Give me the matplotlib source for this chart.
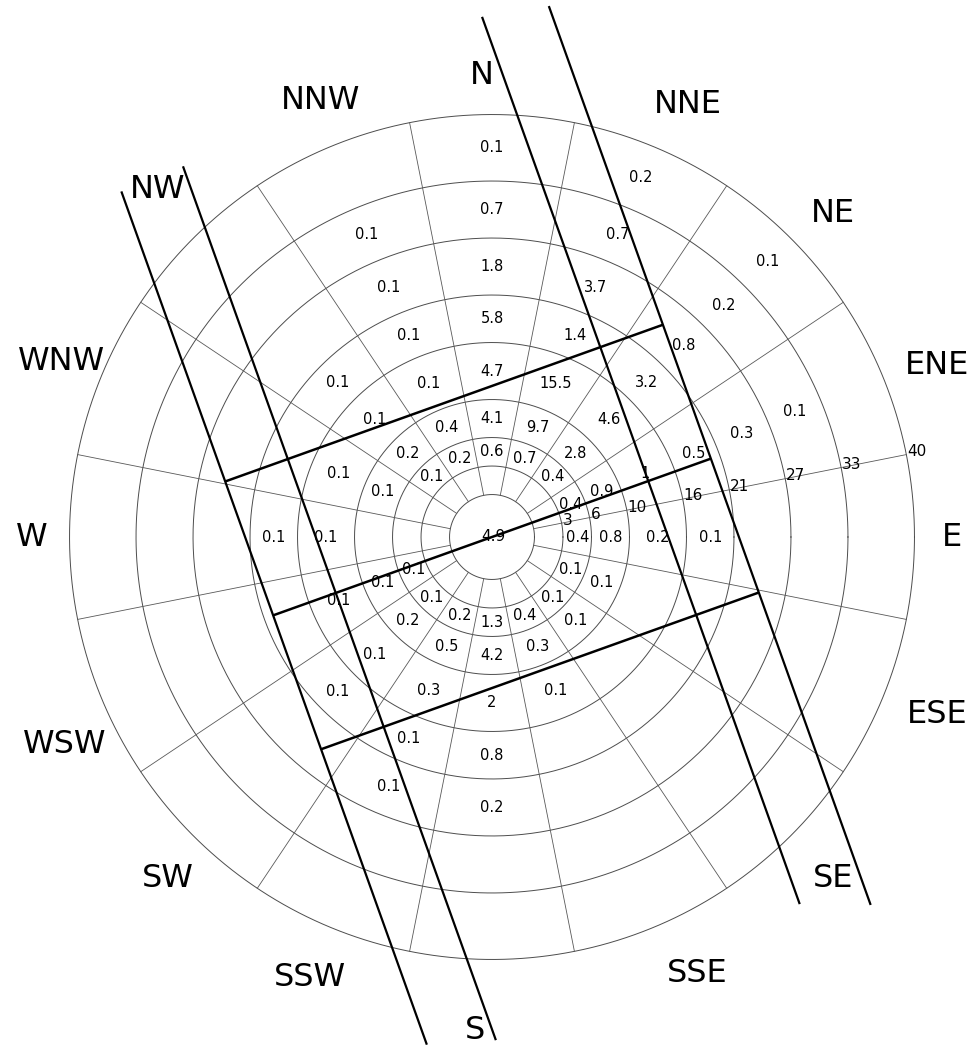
import numpy as np
import matplotlib.pyplot as plt

# wind rose data: percent of observations, directions from N clockwise
directions = ['N', 'NNE', 'NE', 'ENE', 'E', 'ESE', 'SE', 'SSE',
              'S', 'SSW', 'SW', 'WSW', 'W', 'WNW', 'NW', 'NNW']
ring_speeds = [3, 6, 10, 16, 21, 27, 33, 40]   # knots
calm_pct = 4.9

pct_3_6 = [0.6, 0.7, 0.4, 0.4, 0.4, 0.1, 0.1, 0.4, 1.3, 0.2, 0.1, 0.1, None, None, 0.1, 0.2]
pct_6_10 = [4.1, 9.7, 2.8, 0.9, 0.8, 0.1, 0.1, 0.3, 4.2, 0.5, 0.2, 0.1, None, 0.1, 0.2, 0.4]
pct_10_16 = [4.7, 15.5, 4.6, 1, 0.2, None, None, 0.1, 2, 0.3, 0.1, 0.1, 0.1, 0.1, 0.1, 0.1]
pct_16_21 = [5.8, 1.4, 3.2, 0.5, 0.1, None, None, None, 0.8, 0.1, 0.1, None, 0.1, None, 0.1, 0.1]
pct_21_27 = [1.8, 3.7, 0.8, 0.3, None, None, None, None, 0.2, 0.1, None, None, None, None, None, 0.1]
pct_27_33 = [0.7, 0.7, 0.2, 0.1, None, None, None, None, None, None, None, None, None, None, None, 0.1]
pct_33_40 = [0.1, 0.2, 0.1, None, None, None, None, None, None, None, None, None, None, None, None, None]

band_pcts = [pct_3_6, pct_6_10, pct_10_16, pct_16_21, pct_21_27, pct_27_33, pct_33_40]

# runway templates
runway_heading = 70.3          # runway 07/25, degrees from north
xwind_main = 10.5              # knots, band around runway 07/25
xwind_cross = [13, 20]         # knots, bands for the crossing runway

# layout
W, H = 975, 1059
cx, cy = 492, 537
PX = 9.5       # pixels per knot
R0 = 4.47      # calm circle radius in knots of the scale
# extents of the long template lines (along the line, knots), per side/offset
long_extent = {-20: (-47.4, 48.0), -13: (-47.7, 50.0),
               13: (-51.9, 47.3), 20: (-50.6, 49.9)}
# small shifts of the compass labels (knots of the scale)
nudge = {'N': (-1.05, -1.6), 'NNE': (1.4, -0.85), 'NE': (0.4, -1.4), 'ENE': (0.5, -1.2),
         'ESE': (0.5, 0.5), 'SE': (0.4, -0.4), 'SSE': (2.4, 0.4), 'S': (-1.8, -1.7),
         'SW': (1.4, -0.4), 'WSW': (1.4, -2.6), 'WNW': (1.1, -0.7), 'NW': (0.3, 1.1),
         'NNW': (1.2, -0.4)}

fig = plt.figure(figsize=(W / 100, H / 100), dpi=100)
ax = fig.add_axes([0, 0, 1, 1])
ax.set_xlim(-cx / PX, (W - cx) / PX)
ax.set_ylim(-(H - cy) / PX, cy / PX)
ax.axis('off')

# rings
t = np.linspace(0, 2 * np.pi, 600)
for s in [0] + ring_speeds:
    r = R0 + s
    ax.plot(r * np.cos(t), r * np.sin(t), color='0.3', lw=0.7)

# sector boundaries
rmax = R0 + ring_speeds[-1]
for k in range(16):
    a = np.deg2rad(11.25 + 22.5 * k)
    ax.plot([R0 * np.cos(a), rmax * np.cos(a)], [R0 * np.sin(a), rmax * np.sin(a)],
            color='0.35', lw=0.6)

# percentages
edges = [0] + ring_speeds
for b, vals in enumerate(band_pcts):
    lo, hi = edges[b + 1], edges[b + 2]
    rm = R0 + (lo + hi) / 2
    for i, v in enumerate(vals):
        if v is None:
            continue
        a = np.deg2rad(90 - 22.5 * i)
        ax.text(rm * np.cos(a), rm * np.sin(a), f'{v:g}', ha='center', va='center',
                fontsize=10.5, color='black')

ax.text(0.1, 0.1, f'{calm_pct:g}', ha='center', va='center', fontsize=11)

# ring speed labels along the E/ENE boundary
a = np.deg2rad(11.25)
for s in ring_speeds:
    r = R0 + s
    ax.text(r * np.cos(a) + 0.1, r * np.sin(a) - 0.15, str(s), ha='left', va='baseline',
            fontsize=11)

# compass labels
for i, d in enumerate(directions):
    a = np.deg2rad(90 - 22.5 * i)
    r = 48.4 if d in ('E', 'W') else 50.2
    dx, dy = nudge.get(d, (0, 0))
    ax.text(r * np.cos(a) + dx, r * np.sin(a) + dy, d, ha='center', va='center',
            fontsize=23)

# runway templates
phi = np.deg2rad(90 - runway_heading)
d1 = np.array([np.cos(phi), np.sin(phi)])
n1 = np.array([-np.sin(phi), np.cos(phi)])
half = R0 + xwind_cross[-1]
for o in [-(R0 + xwind_main), 0, R0 + xwind_main]:
    p0 = o * n1 - half * d1
    p1 = o * n1 + half * d1
    ax.plot([p0[0], p1[0]], [p0[1], p1[1]], color='black', lw=1.8, solid_capstyle='butt')

for xw in xwind_cross:
    for sgn in (-1, 1):
        o = sgn * (R0 + xw)
        t0, t1 = long_extent[sgn * xw]
        p0 = o * d1 - t0 * n1
        p1 = o * d1 - t1 * n1
        ax.plot([p0[0], p1[0]], [p0[1], p1[1]], color='black', lw=1.6, solid_capstyle='butt')

fig.savefig('out.png', dpi=100, facecolor='white')
